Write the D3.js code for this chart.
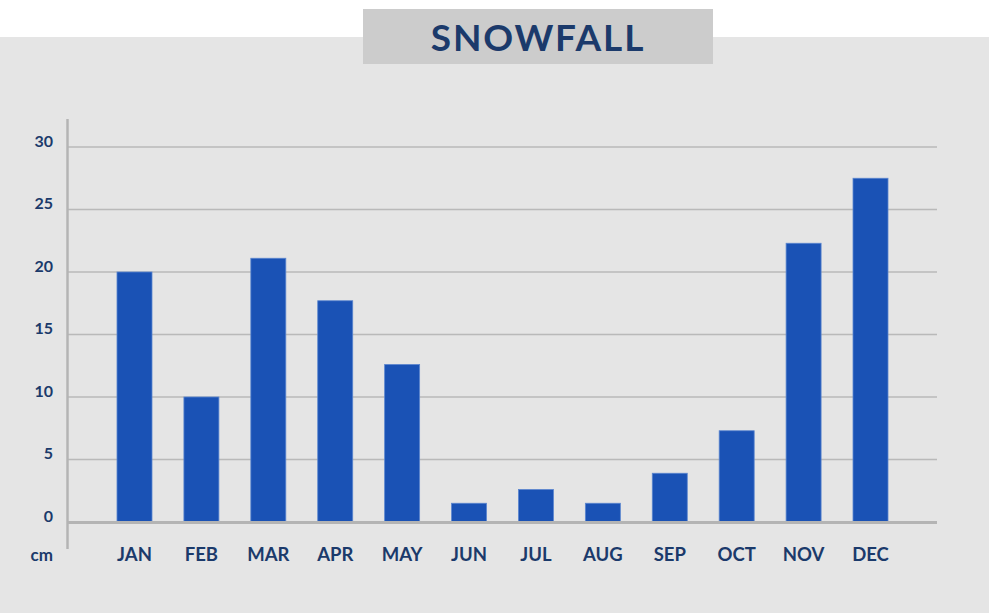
<!DOCTYPE html>
<html>
<head>
<meta charset="utf-8">
<script src="https://cdn.jsdelivr.net/npm/d3@7"></script>
<style>
  html, body { margin: 0; padding: 0; background: #ffffff; }
  svg { display: block; }
  text { font-family: "Lato", "Open Sans", sans-serif; }
</style>
</head>
<body>
<svg id="chart" width="989" height="613"></svg>
<script>
const title = "SNOWFALL";
const unitLabel = "cm";
const months = ["JAN","FEB","MAR","APR","MAY","JUN","JUL","AUG","SEP","OCT","NOV","DEC"];
const snowfall = [20, 10, 21.1, 17.7, 12.6, 1.5, 2.6, 1.5, 3.9, 7.3, 22.3, 27.5];
const yTicks = [0, 5, 10, 15, 20, 25, 30];

const svg = d3.select("#chart");
const navy = "#1b3a6b";

// background panel
svg.append("rect").attr("x", 0).attr("y", 37).attr("width", 989).attr("height", 576).attr("fill", "#e5e5e5");

// title box
svg.append("rect").attr("x", 363).attr("y", 9).attr("width", 350).attr("height", 55).attr("fill", "#cccccc");
svg.append("text").attr("x", 538).attr("y", 50.5).attr("text-anchor", "middle")
  .attr("font-size", 37).attr("font-weight", 700).attr("fill", navy)
  .attr("letter-spacing", 1.8)
  .text(title);

const x = d3.scaleBand().domain(months).range([117, 888]).paddingInner(0.477).paddingOuter(0);
const y = d3.scaleLinear().domain([0, 30]).range([522, 147]);

// gridlines
const grid = svg.append("g");
grid.selectAll("line").data(yTicks.filter(d => d !== 0)).join("line")
  .attr("x1", 68).attr("x2", 937)
  .attr("y1", d => y(d)).attr("y2", d => y(d))
  .attr("stroke", "#b9b9b9").attr("stroke-width", 1.6);

// y tick labels via axis
const yAxis = svg.append("g").attr("transform", "translate(53,0)")
  .call(d3.axisLeft(y).tickValues(yTicks).tickSize(0).tickPadding(0));
yAxis.select(".domain").remove();
yAxis.selectAll("text")
  .attr("font-size", 16).attr("font-weight", 700).attr("fill", navy)
  .attr("font-family", "Lato, sans-serif")
  .attr("dy", "-0.05em").attr("text-anchor", "end");

// bars
svg.append("g").selectAll("rect").data(months).join("rect")
  .attr("x", (d) => x(d))
  .attr("y", (d, i) => y(snowfall[i]))
  .attr("width", x.bandwidth())
  .attr("height", (d, i) => y(0) - y(snowfall[i]))
  .attr("fill", "#1a52b5")
  .attr("stroke", "#5b86cf").attr("stroke-width", 0.8);

// baseline
svg.append("line").attr("x1", 68).attr("x2", 937).attr("y1", y(0) + 0.5).attr("y2", y(0) + 0.5)
  .attr("stroke", "#b4b4b4").attr("stroke-width", 3);

// vertical axis line
svg.append("line").attr("x1", 67.5).attr("x2", 67.5).attr("y1", 119).attr("y2", 549)
  .attr("stroke", "#b4b4b4").attr("stroke-width", 2.5);

// x labels via axis
const xAxis = svg.append("g").attr("transform", "translate(0,561)")
  .call(d3.axisBottom(x).tickSize(0).tickPadding(0));
xAxis.select(".domain").remove();
xAxis.selectAll("text")
  .attr("dy", 0).attr("font-size", 18.5).attr("font-weight", 700).attr("fill", navy)
  .attr("font-family", "Lato, sans-serif");

// unit label
svg.append("text").attr("x", 53).attr("y", 561).attr("text-anchor", "end")
  .attr("font-size", 17).attr("font-weight", 700).attr("fill", navy).text(unitLabel);
</script>
</body>
</html>
